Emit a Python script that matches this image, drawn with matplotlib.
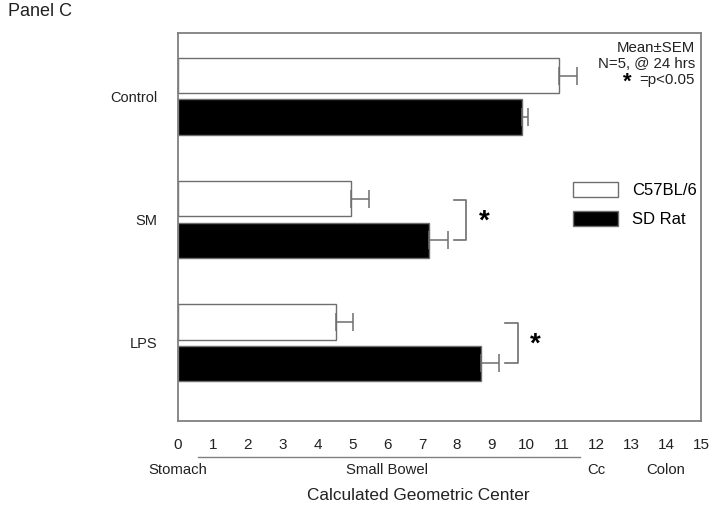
import matplotlib
matplotlib.use("Agg")
import matplotlib.pyplot as plt
import matplotlib.transforms as mtransforms
import numpy as np

plt.rcParams['font.family'] = ['Liberation Sans', 'DejaVu Sans']

# ---- data ----
categories = ["Control", "SM", "LPS"]
series_names = ["C57BL/6", "SD Rat"]
c57_mean = [10.93, 4.96, 4.53]
c57_sem = [0.51, 0.52, 0.49]
rat_mean = [9.87, 7.20, 8.69]
rat_sem = [0.17, 0.54, 0.52]
significant = [False, True, True]
xticks = list(range(0, 16))
region_labels = ["Stomach", "Small Bowel", "Cc", "Colon"]
region_pos = [0, 6, 12, 14]
annotation_lines = ["Mean\u00b1SEM", "N=5, @ 24 hrs", "=p<0.05"]

W, H = 715, 509
fig = plt.figure(figsize=(W / 100, H / 100), dpi=100)
ax = fig.add_axes([178 / W, 1 - 421 / H, (701 - 178) / W, (421 - 33) / H])

gray = "#6e6e6e"
txt = "#222222"
y = np.arange(len(categories))
off = 0.167
h = 0.285

ax.barh(y - off, c57_mean, height=h, color="white", edgecolor=gray, linewidth=1.0,
        label=series_names[0])
ax.barh(y + off, rat_mean, height=h, color="black", edgecolor=gray, linewidth=1.0,
        label=series_names[1])
ax.errorbar(c57_mean, y - off, xerr=[np.zeros(3), c57_sem], fmt="none", ecolor=gray,
            elinewidth=1.1, capsize=6.5, capthick=1.1)
ax.errorbar(rat_mean, y + off, xerr=[np.zeros(3), rat_sem], fmt="none", ecolor=gray,
            elinewidth=1.1, capsize=6.5, capthick=1.1)

# significance brackets
for i, sig in enumerate(significant):
    if not sig:
        continue
    xs = max(c57_mean[i] + c57_sem[i], rat_mean[i] + rat_sem[i]) + 0.17
    xv = xs + 0.36
    y1, y2 = y[i] - 0.16, y[i] + 0.17
    ax.plot([xs, xv, xv, xs], [y1, y1, y2, y2], color=gray, lw=1.2)
    ax.text(xv + 0.52, y[i] + 0.02, "*", fontsize=20, fontweight="bold",
            ha="center", va="center")

ax.set_xlim(0, 15)
ax.set_ylim(2.638, -0.516)
ax.set_xticks(xticks)
ax.set_xticklabels([str(t) for t in xticks], fontsize=11, color=txt)
ax.set_yticks(y)
ax.set_yticklabels(categories, fontsize=10.5, color=txt)
ax.tick_params(axis="x", length=0, pad=12)
ax.tick_params(axis="y", length=0, pad=15)
for s in ax.spines.values():
    s.set_color("#808080")
    s.set_linewidth(1.3)

# annotation in top right
fig.text(695 / W, 1 - 48 / H, annotation_lines[0], ha="right", va="center", fontsize=10.8, color=txt)
fig.text(695 / W, 1 - 64 / H, annotation_lines[1], ha="right", va="center", fontsize=10.8, color=txt)
fig.text(695 / W, 1 - 80 / H, annotation_lines[2], ha="right", va="center", fontsize=10.8, color=txt)
fig.text(627 / W, 1 - 82 / H, "*", ha="center", va="center", fontsize=16, fontweight="bold")

# legend
ax.legend(loc="upper left", bbox_to_anchor=(573 / W, 1 - 182 / H),
          bbox_transform=fig.transFigure, frameon=False, fontsize=12,
          handlelength=2.7, handleheight=1.0, handletextpad=0.85,
          labelspacing=0.75, borderpad=0, borderaxespad=0)

# region labels under axis
blend = mtransforms.blended_transform_factory(ax.transData, fig.transFigure)
ax.plot([0.56, 11.53], [1 - 457 / H] * 2, transform=blend, clip_on=False,
        color="#808080", lw=1.0)
for lab, pos in zip(region_labels, region_pos):
    ax.text(pos, 1 - 470 / H, lab, transform=blend, ha="center", va="center",
            fontsize=10.7, color=txt)
ax.text(6.9, 1 - 496 / H, "Calculated Geometric Center", transform=blend,
        ha="center", va="center", fontsize=12.4, color=txt)

fig.text(8 / W, 1 - 12 / H, "Panel C", ha="left", va="center", fontsize=13,
         color=txt)

fig.savefig("out.png", dpi=100)
